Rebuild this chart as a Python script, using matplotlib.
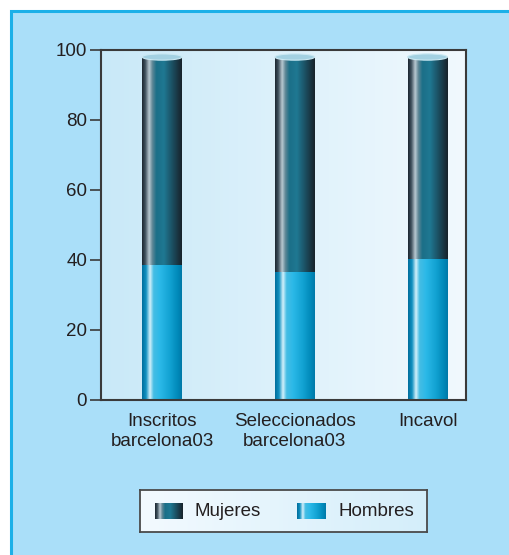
import numpy as np
import matplotlib
matplotlib.use('Agg')
import matplotlib.pyplot as plt
from matplotlib.colors import LinearSegmentedColormap
from matplotlib.patches import Rectangle, Ellipse

plt.rcParams['font.family'] = ['Liberation Sans', 'DejaVu Sans']

# data (percent)
categories = ['Inscritos\nbarcelona03', 'Seleccionados\nbarcelona03', 'Incavol']
hombres = [38.7, 36.6, 40.4]
mujeres = [59.3, 61.4, 57.6]
series_names = ['Mujeres', 'Hombres']
yticks = [0, 20, 40, 60, 80, 100]

txt_col = '#231f20'
fs = 13.5
# cylinder shading, left -> right
cm_muj = LinearSegmentedColormap.from_list('muj', [
    (0.0, '#1b2630'), (0.08, '#3e505c'), (0.18, '#b9c9d2'), (0.26, '#5f8796'),
    (0.36, '#1b6f88'), (0.55, '#1f7892'), (0.78, '#1b4b5d'), (1.0, '#18222a')])
cm_hom = LinearSegmentedColormap.from_list('hom', [
    (0.0, '#006d9c'), (0.1, '#1090c0'), (0.2, '#d5f1fb'), (0.29, '#45bde4'),
    (0.45, '#2bb9e8'), (0.7, '#12a2d2'), (0.9, '#0089b9'), (1.0, '#0079a8')])
cm_bg = LinearSegmentedColormap.from_list('bg', ['#c9e9f8', '#f1f9fe'])
cm_leg = LinearSegmentedColormap.from_list('leg', ['#f3faff', '#d4eefa'])
grad = np.linspace(0, 1, 256).reshape(1, -1)

fig = plt.figure(figsize=(5.1, 5.55), dpi=100)
fig.patch.set_facecolor('white')
# outer light blue frame
fig.patches.append(Rectangle((11 / 510, -0.05), 1.1, (555 - 11) / 555 + 0.05,
                             transform=fig.transFigure, facecolor='#aadff9',
                             edgecolor='#1cb0e8', linewidth=2.2, zorder=-5))

ax = fig.add_axes([101 / 510, 155 / 555, 365 / 510, 350 / 555])
ax.set_facecolor('none')
ax.imshow(grad, cmap=cm_bg, extent=[0, 1, 0, 1], transform=ax.transAxes,
          aspect='auto', zorder=0)

x = np.arange(len(categories))
w = 0.30
bars_h = ax.bar(x, hombres, w, color='none', edgecolor='none', zorder=2)
bars_m = ax.bar(x, mujeres, w, bottom=hombres, color='none',
                edgecolor='none', zorder=2)
for bars, cm in ((bars_h, cm_hom), (bars_m, cm_muj)):
    for b in bars:
        x0, y0 = b.get_x(), b.get_y()
        im = ax.imshow(grad, cmap=cm, extent=[x0, x0 + b.get_width(), y0, y0 + b.get_height()],
                       aspect='auto', zorder=2, interpolation='bilinear')
        im.set_clip_path(b)
# cylinder tops
for xi, h, m in zip(x, hombres, mujeres):
    ax.add_patch(Ellipse((xi, h + m), w, 1.8, facecolor='#a3d1e2',
                         edgecolor='#cbe9f3', linewidth=0.8, zorder=3))

ax.set_xlim(-0.46, 2.29)
ax.set_ylim(0, 100)
ax.set_yticks(yticks)
ax.set_xticks(x)
ax.set_xticklabels(categories, linespacing=1.3)
ax.tick_params(axis='y', direction='out', length=8, width=1.2, color='#3a3a3a',
               labelsize=fs, labelcolor=txt_col, pad=2)
ax.tick_params(axis='x', length=0, labelsize=fs, labelcolor=txt_col, pad=9)
for s in ax.spines.values():
    s.set_color('#3a3a3a')
    s.set_linewidth(1.5)

# legend box
lax = fig.add_axes([140 / 510, 23 / 555, 287 / 510, 42 / 555])
lax.imshow(grad, cmap=cm_leg, extent=[0, 1, 0, 1], aspect='auto')
lax.set_xlim(0, 1)
lax.set_ylim(0, 1)
lax.set_xticks([])
lax.set_yticks([])
for s in lax.spines.values():
    s.set_color('#4a4a4a')
    s.set_linewidth(1.3)
for cm, x0, name, tx in ((cm_muj, 15, series_names[0], 55), (cm_hom, 157, series_names[1], 198)):
    lax.imshow(grad, cmap=cm, extent=[x0 / 287, (x0 + 28) / 287, 0.3, 0.66],
               aspect='auto', zorder=2)
    lax.text(tx / 287, 0.48, name, fontsize=fs, color=txt_col, va='center', ha='left')

fig.savefig('out.png', dpi=100)
